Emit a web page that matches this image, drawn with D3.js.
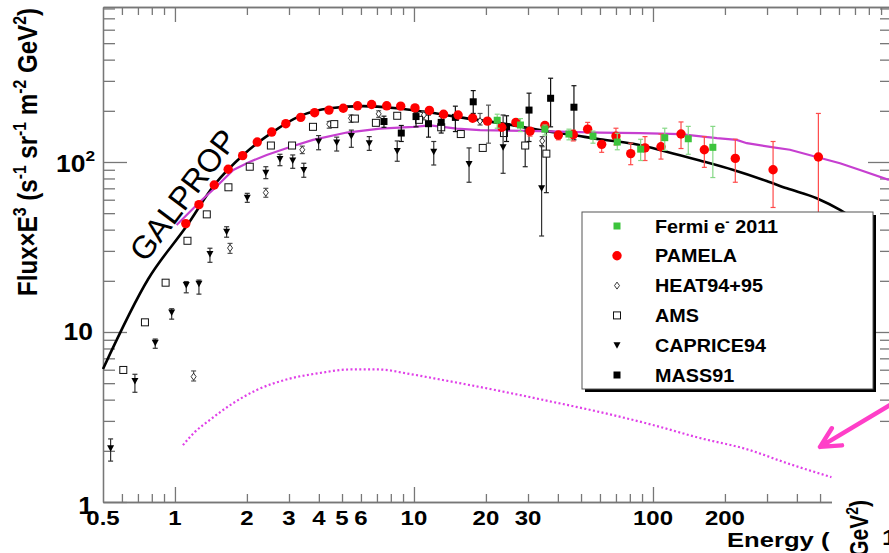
<!DOCTYPE html>
<html>
<head>
<meta charset="utf-8">
<script src="https://cdn.jsdelivr.net/npm/d3@7"></script>
<style>
  body { margin: 0; background: #fff; }
  svg { display: block; }
  text { font-family: "Liberation Sans", Arial, sans-serif; }
</style>
</head>
<body>
<div id="chart"></div>
<script>
// energies in GeV, flux x E^3 in s^-1 sr^-1 m^-2 GeV^2

// PAMELA
const pamelaE = [1.11, 1.26, 1.46, 1.67, 1.92, 2.21, 2.54, 2.91, 3.36, 3.84, 4.41, 5.06, 5.81, 6.65, 7.69, 8.80, 10.1, 11.6, 13.3, 15.3, 17.6, 20.3, 23.3, 26.7, 30.6, 35.3, 40.2, 46.4, 53.3, 61.0, 70.0, 80.7, 92.6, 108, 131, 164, 221, 318, 492]
const pamelaF = [43.4, 56.1, 73.2, 90.6, 109, 131, 150, 168, 183, 195, 202, 207, 214, 218, 214, 213, 208, 201, 191, 189, 181, 174, 160, 171, 152, 164, 144, 145, 156, 127, 142, 112, 121, 123, 146, 118, 105, 90, 107]
const pamelaHi = [null, null, null, null, null, null, null, null, null, null, null, null, null, null, null, null, null, null, null, null, null, null, null, null, 158, 171, 151, 154, 171, 132, 158, 129, 141, 146, 172, 141, 136, 132, 193]
const pamelaLo = [null, null, null, null, null, null, null, null, null, null, null, null, null, null, null, null, null, null, null, null, null, null, null, null, 142, 154, 135, 133, 149, 114, 126, 96.4, 102, 104, 120, 93, 76, 54, 35]

// Fermi e- 2011
const fermiE = [22.3, 27.9, 35.3, 44.5, 56.1, 70.9, 88.8, 112, 140.5, 178]
const fermiF = [176, 165, 156, 146, 142, 131, 119, 139, 137, 122]
const fermiHi = [191, 180, 165, 156, 152, 147.6, 136, 158, 162, 162]
const fermiLo = [158, 151, 144, 135, 129, 118, 102, 117, 111, 81]

// MASS91
const massE = [7.49, 8.85, 10.2, 11.5, 13.0, 14.9, 17.7, 24.4, 30.3, 37.3, 46.7]
const massF = [173, 148, 185, 168, 171, 183, 226, 161, 202, 237, 210]
const massHi = [186, 164, 195, 189, 185, 213, 263, 187, 254, 311, 281]
const massLo = [160, 132, 161, 140, 148, 151, 193, 132, 132, 161, 135]

// AMS
const amsE = [0.608, 0.749, 0.914, 1.128, 1.359, 1.674, 2.056, 2.52, 3.09, 3.78, 4.64, 5.66, 6.93, 8.51, 10.5, 13.0, 15.7, 19.4, 23.8, 29.2, 35.8]
const amsF = [5.98, 11.4, 19.5, 34.4, 49.2, 71.0, 93.8, 125, 125, 161, 167, 180, 170, 187, 177, 160, 146, 121, 148, 125, 112]
const amsHi = [null, null, null, null, null, null, null, null, null, null, null, null, null, null, null, null, null, null, null, 158.5, 151]
const amsLo = [null, null, null, null, null, null, null, null, null, null, null, null, null, null, null, null, null, null, null, 93.8, 66]

// CAPRICE94
const capE = [0.538, 0.680, 0.827, 0.969, 1.115, 1.26, 1.401, 1.645, 2.007, 2.40, 2.75, 3.11, 3.46, 3.99, 4.75, 5.47, 6.50, 8.51, 12.1, 17.0, 23.6, 34.2]
const capF = [2.07, 5.15, 8.65, 13.0, 18.9, 19.2, 28.8, 38.9, 61.7, 86.5, 104, 102, 89.7, 132, 130, 142, 129, 116, 115, 97.3, 122, 70]
const capHi = [2.35, 5.64, 9.09, 13.7, 19.8, 20.2, 31.1, 41.6, 65.4, 93.8, 111, 110, 98.3, 143, 140, 154, 141, 133, 132, 121, 189, 125]
const capLo = [1.74, 4.42, 8.02, 11.9, 17.0, 16.7, 25.7, 36.1, 57.9, 79.8, 95.1, 91.8, 81.3, 118, 116, 122, 117, 101, 96, 76, 85.8, 36.7]

// HEAT94+95
const heatE = [1.197, 1.70, 2.40, 3.41, 4.42, 5.45, 7.12, 11.0, 18.9, 20.5, 34.4]
const heatF = [5.46, 31.2, 66.0, 118, 167, 181, 192, 189, 174, 174, 133]
const heatHi = [5.90, 33.2, 70.0, 124, 173, 189, 200, 198, 193, 216, 141]
const heatLo = [5.15, 29.0, 62.0, 112, 158, 171, 183, 177, 165, 129, 123]

// GALPROP model (black)
const galE = [0.5, 0.773, 1.119, 1.46, 1.93, 2.58, 3.33, 4.45, 6.14, 8.47, 10.9, 15.6, 24.4, 33.7, 46.4, 60.0, 82.7, 114, 157, 217, 299, 363, 484, 606, 800]
const galF = [6.06, 20.5, 42.0, 73.2, 110, 151, 186, 207, 213, 207, 198, 183, 167, 154, 144, 136, 128, 115, 102, 89.7, 77.3, 70, 61.2, 52.2, 40]

// magenta solid curve
const magE = [1.016, 1.272, 1.47, 1.754, 2.06, 2.42, 3.03, 3.78, 5.23, 7.21, 9.93, 11.7, 15.1, 18.9, 33.7, 60.0, 88.2, 130, 185, 224, 247, 319, 374, 484, 606, 735, 971]
const magF = [42.6, 58.4, 70.3, 89.7, 100.4, 110, 122.5, 135, 149, 157, 161, 164, 157, 154, 152, 149, 148, 146, 138, 135, 129, 122, 118, 107, 98.3, 89.7, 78.4]

// magenta dotted curve
const dotE = [1.08, 1.21, 1.40, 1.73, 2.20, 2.98, 4.04, 5.40, 7.07, 9.62, 13.2, 22.9, 37.7, 60.0, 99.8, 157, 245, 374, 558]
const dotF = [2.16, 2.58, 3.04, 3.77, 4.56, 5.29, 5.74, 6.02, 6.02, 5.66, 5.22, 4.50, 3.89, 3.38, 2.84, 2.38, 2.05, 1.67, 1.40]

// arrow (start, tip) in data units
const arrowE = [1030, 500]
const arrowF = [3.87, 2.11]

const xTickLabels = [0.5, 1, 2, 3, 4, 5, 6, 10, 20, 30, 100, 200]
const xMinor = [0.6, 0.7, 0.8, 0.9, 2, 3, 4, 5, 6, 7, 8, 9, 20, 30, 40, 50, 60, 70, 80, 90, 200, 300, 400, 500, 600, 700, 800, 900]
const xMajor = [1, 10, 100]
const yMinor = [2, 3, 4, 5, 6, 7, 8, 9, 20, 30, 40, 50, 60, 70, 80, 90, 200, 300, 400, 500, 600, 700, 800]
const yMajor = [1, 10, 100]

const legendNames = ['Fermi e- 2011', 'PAMELA', 'HEAT94+95', 'AMS', 'CAPRICE94', 'MASS91']


const svg = d3.select('#chart').append('svg')
    .attr('width', 889)
    .attr('height', 553)

const x = d3.scaleLog().domain([0.5, 1000]).range([103, 892])
const y = d3.scaleLog().domain([1, 816]).range([502, 7])

const AXIS_COL = '#777'

// frame + ticks
function styleAxis(g) {
    g.selectAll('path,line').attr('stroke', AXIS_COL).attr('stroke-width', 1.3)
    g.selectAll('text').remove()
}
const axes = svg.append('g')
axes.append('g').attr('transform', 'translate(0,502)')
    .call(d3.axisBottom(x).tickValues(xMinor).tickSize(-8).tickSizeOuter(0)).call(styleAxis)
axes.append('g').attr('transform', 'translate(0,502)')
    .call(d3.axisBottom(x).tickValues(xMajor).tickSize(-15).tickSizeOuter(0)).call(styleAxis)
axes.append('g').attr('transform', 'translate(0,7)')
    .call(d3.axisTop(x).tickValues(xMinor).tickSize(-8).tickSizeOuter(0)).call(styleAxis)
axes.append('g').attr('transform', 'translate(0,7)')
    .call(d3.axisTop(x).tickValues(xMajor).tickSize(-15).tickSizeOuter(0)).call(styleAxis)
axes.append('g').attr('transform', 'translate(103,0)')
    .call(d3.axisLeft(y).tickValues(yMinor).tickSize(-12).tickSizeOuter(0)).call(styleAxis)
axes.append('g').attr('transform', 'translate(103,0)')
    .call(d3.axisLeft(y).tickValues(yMajor).tickSize(-24).tickSizeOuter(0)).call(styleAxis)
axes.append('g').attr('transform', 'translate(892,0)')
    .call(d3.axisRight(y).tickValues(yMinor).tickSize(-12).tickSizeOuter(0)).call(styleAxis)
axes.append('g').attr('transform', 'translate(892,0)')
    .call(d3.axisRight(y).tickValues(yMajor).tickSize(-24).tickSizeOuter(0)).call(styleAxis)

// stretched text helper (the original fonts are wider than Arial)
function stretchText(g, px, py, sx, size, anchor) {
    return g.append('text')
        .attr('transform', `translate(${px},${py}) scale(${sx},1)`)
        .attr('font-size', size)
        .attr('font-weight', 'bold')
        .attr('text-anchor', anchor)
        .attr('fill', '#000')
}

// segments: [text, isSuperscript]
function richText(t, segs, supSize, shift) {
    let up = false
    segs.forEach(s => {
        const ts = t.append('tspan').text(s[0])
        if (s[1] && !up) { ts.attr('dy', -shift).attr('font-size', supSize); up = true }
        else if (s[1]) { ts.attr('font-size', supSize) }
        else if (up) { ts.attr('dy', shift); up = false }
    })
}

const labels = svg.append('g')
xTickLabels.forEach(v => {
    stretchText(labels, x(v), 525, 1.2, 20, 'middle').text(v)
})
stretchText(labels, 93, y(1) + 12, 1.15, 23, 'end').text('1')
stretchText(labels, 93, y(10) + 8, 1.15, 23, 'end').text('10')
richText(stretchText(labels, 95, y(100) + 10, 1.15, 23, 'end'), [['10', false], ['2', true]], 15, 11)

// y title, fitted to the length it has in the original
const yt = svg.append('text')
    .attr('font-size', 23)
    .attr('font-weight', 'bold')
    .attr('text-anchor', 'middle')
richText(yt, [['Flux\u00D7E', false], ['3', true], [' (s', false], ['-1', true], [' sr', false], ['-1', true],
    [' m', false], ['-2', true], [' GeV', false], ['2', true], [')', false]], 15, 9)
const ytLen = yt.node().getComputedTextLength()
yt.attr('transform', `translate(37,152) rotate(-90) scale(${288 / ytLen},1.2)`)

// curves
const lineGen = d3.line().x(d => x(d[0])).y(d => y(d[1])).curve(d3.curveMonotoneX)

svg.append('path')
    .attr('d', lineGen(d3.zip(dotE, dotF)))
    .attr('fill', 'none')
    .attr('stroke', '#e040e8')
    .attr('stroke-width', 2.2)
    .attr('stroke-dasharray', '2,2.4')

svg.append('path')
    .attr('d', lineGen(d3.zip(galE, galF)))
    .attr('fill', 'none')
    .attr('stroke', '#000')
    .attr('stroke-width', 2.6)

svg.append('path')
    .attr('d', d3.line().x(d => x(d[0])).y(d => y(d[1]))(d3.zip(magE, magF)))
    .attr('fill', 'none')
    .attr('stroke', '#c63fd0')
    .attr('stroke-width', 2.2)

// markers
const markers = {
    'Fermi e- 2011': (g, cx, cy) => g.append('rect').attr('x', cx - 3.5).attr('y', cy - 3.5).attr('width', 7).attr('height', 7).attr('fill', '#3cc43c'),
    'PAMELA': (g, cx, cy) => g.append('circle').attr('cx', cx).attr('cy', cy).attr('r', 4.7).attr('fill', '#ff0000'),
    'HEAT94+95': (g, cx, cy) => g.append('path').attr('d', `M${cx},${cy - 3.5}L${cx + 2.5},${cy}L${cx},${cy + 3.5}L${cx - 2.5},${cy}Z`)
        .attr('fill', '#fff').attr('stroke', '#222').attr('stroke-width', 0.9),
    'AMS': (g, cx, cy) => g.append('rect').attr('x', cx - 3.5).attr('y', cy - 3.5).attr('width', 7).attr('height', 7)
        .attr('fill', '#fff').attr('stroke', '#111').attr('stroke-width', 1),
    'CAPRICE94': (g, cx, cy) => g.append('path').attr('d', `M${cx - 3.5},${cy - 3}L${cx + 3.5},${cy - 3}L${cx},${cy + 3.5}Z`).attr('fill', '#000'),
    'MASS91': (g, cx, cy) => g.append('rect').attr('x', cx - 3.5).attr('y', cy - 3.5).attr('width', 7).attr('height', 7).attr('fill', '#000')
}

function drawSeries(name, E, F, hi, lo, barColor) {
    const g = svg.append('g')
    const rows = d3.zip(E, F, hi, lo)
    rows.forEach(r => {
        if (r[2] == null) return
        const cx = x(r[0]), y1 = y(r[2]), y2 = y(r[3])
        g.append('line').attr('x1', cx).attr('x2', cx).attr('y1', y1).attr('y2', y2)
            .attr('stroke', barColor).attr('stroke-width', 1.2)
        g.append('line').attr('x1', cx - 2.5).attr('x2', cx + 2.5).attr('y1', y1).attr('y2', y1)
            .attr('stroke', barColor).attr('stroke-width', 1.2)
        g.append('line').attr('x1', cx - 2.5).attr('x2', cx + 2.5).attr('y1', y2).attr('y2', y2)
            .attr('stroke', barColor).attr('stroke-width', 1.2)
    })
    rows.forEach(r => markers[name](g, x(r[0]), y(r[1])))
}

drawSeries('HEAT94+95', heatE, heatF, heatHi, heatLo, '#555')
drawSeries('AMS', amsE, amsF, amsHi, amsLo, '#222')
drawSeries('CAPRICE94', capE, capF, capHi, capLo, '#333')
drawSeries('MASS91', massE, massF, massHi, massLo, '#111')
drawSeries('PAMELA', pamelaE, pamelaF, pamelaHi, pamelaLo, '#ff4a4a')
drawSeries('Fermi e- 2011', fermiE, fermiF, fermiHi, fermiLo, '#86d886')

// GALPROP label
svg.append('text')
    .attr('transform', 'translate(183,195) rotate(-53)')
    .attr('font-family', '"Liberation Serif", "Times New Roman", serif')
    .attr('font-size', 32)
    .attr('text-anchor', 'middle')
    .attr('dy', '0.35em')
    .text('GALPROP')

// legend
const leg = svg.append('g')
leg.append('rect').attr('x', 585).attr('y', 215).attr('width', 291).attr('height', 177).attr('fill', '#000')
leg.append('rect').attr('x', 582).attr('y', 212).attr('width', 291).attr('height', 177)
    .attr('fill', '#fff').attr('stroke', '#555').attr('stroke-width', 1)
legendNames.forEach((name, i) => {
    const cy = 226 + i * 29.8
    markers[name](leg, 617, cy)
    const t = stretchText(leg, 655, cy + 6.5, 1.07, 18.5, 'start')
    if (name === 'Fermi e- 2011') {
        richText(t, [['Fermi e', false], ['-', true], [' 2011', false]], 12, 7)
    } else {
        t.text(name)
    }
})

// bottom-right corner is covered in the original
svg.append('rect').attr('x', 832).attr('y', 430).attr('width', 60).attr('height', 130).attr('fill', '#fff')

// arrow
const a0 = [x(arrowE[0]), y(arrowF[0])], a1 = [x(arrowE[1]), y(arrowF[1])]
const ang = Math.atan2(a0[1] - a1[1], a0[0] - a1[0])
const headLen = 22, spread = 0.47
const arrowPath = `M${a0[0]},${a0[1]}L${a1[0]},${a1[1]}` +
    `M${a1[0] + headLen * Math.cos(ang - spread)},${a1[1] + headLen * Math.sin(ang - spread)}` +
    `L${a1[0]},${a1[1]}` +
    `L${a1[0] + headLen * Math.cos(ang + spread)},${a1[1] + headLen * Math.sin(ang + spread)}`
svg.append('path').attr('d', arrowPath)
    .attr('fill', 'none').attr('stroke', '#ff3fc8').attr('stroke-width', 4.5)
    .attr('stroke-linecap', 'round').attr('stroke-linejoin', 'round')

// x title (partly cut in original)
stretchText(svg, 727, 547, 1.22, 21, 'start').text('Energy (')
const gt = svg.append('text')
    .attr('transform', 'translate(868,500) rotate(-90) scale(1,1.2)')
    .attr('font-size', 21).attr('font-weight', 'bold').attr('text-anchor', 'end')
richText(gt, [['GeV', false], ['2', true], [')', false]], 14, 8)
stretchText(svg, 882, 545, 1.2, 22, 'start').text('1')
</script>
</body>
</html>
